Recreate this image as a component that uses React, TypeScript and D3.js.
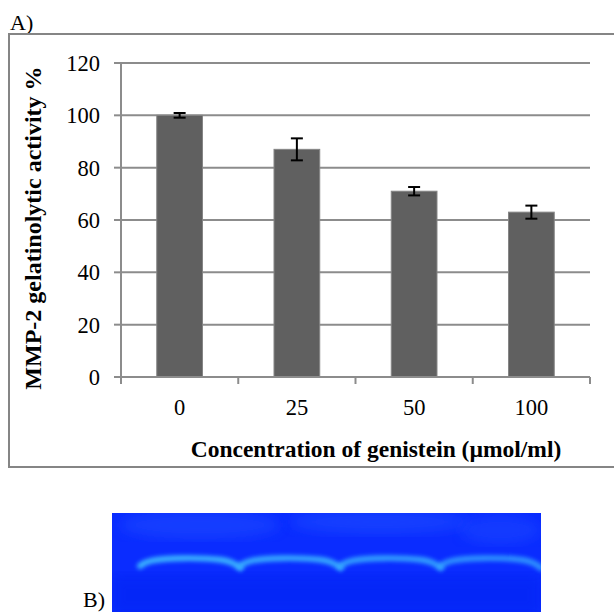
import React from 'react';
import * as d3 from 'd3';

// genistein concentration (µmol/ml) and MMP-2 activity (% of control)
const concentrations = ['0', '25', '50', '100'];
const activity = [100, 87, 71, 63];
const activityErr = [0.9, 4.2, 1.6, 2.5];
const yTicks = [0, 20, 40, 60, 80, 100, 120];
// relative brightness of the zymography band in each lane
const bandIntensity = [1, 0.92, 0.85, 0.75];

const W = 614;
const H = 614;
const plot = { left: 121, right: 590, top: 63, bottom: 377 };
const serif = '"Liberation Serif", "Times New Roman", serif';

const App: React.FC = () => {
  const x = d3.scaleBand<string>()
    .domain(concentrations)
    .range([plot.left, plot.right])
    .paddingInner(0.61)
    .paddingOuter(0.305);
  const y = d3.scaleLinear().domain([0, 120]).range([plot.bottom, plot.top]);
  const step = x.step();

  // gel lanes
  const gel = { x0: 112, x1: 541, y0: 513, y1: 612 };
  const lane = d3.scaleBand<string>().domain(concentrations).range([140, 541]);
  const bandLine = d3.line<[number, number]>().curve(d3.curveBasis);

  return (
    <svg width={W} height={H} style={{ position: 'absolute', left: 0, top: 0, background: '#fff' }}>
      <defs>
        <filter id="blur" x="-10%" y="-100%" width="120%" height="300%">
          <feGaussianBlur stdDeviation="2.2" />
        </filter>
        <filter id="soft">
          <feGaussianBlur stdDeviation="6" />
        </filter>
      </defs>

      <text x={10} y={30} fontFamily={serif} fontSize={22}>A)</text>
      {/* outer frame */}
      <rect x={9} y={34} width={620} height={433} fill="none" stroke="#858585" strokeWidth={2} />

      {/* gridlines */}
      {yTicks.filter(t => t > 0).map(t => (
        <line key={t} x1={plot.left} x2={plot.right} y1={y(t)} y2={y(t)} stroke="#8c8c8c" strokeWidth={2} />
      ))}
      {/* y axis */}
      <line x1={plot.left} x2={plot.left} y1={plot.top} y2={plot.bottom} stroke="#8c8c8c" strokeWidth={2} />
      {yTicks.map(t => (
        <g key={t}>
          <line x1={plot.left - 7} x2={plot.left} y1={y(t)} y2={y(t)} stroke="#8c8c8c" strokeWidth={2} />
          <text x={100} y={y(t)} dy="0.35em" textAnchor="end" fontFamily={serif} fontSize={22.5}>{t}</text>
        </g>
      ))}

      {/* bars */}
      {concentrations.map((c, i) => (
        <rect key={c} x={x(c)} y={y(activity[i])} width={x.bandwidth()} height={y(0) - y(activity[i])}
          fill="#606060" stroke="#858585" strokeWidth={1} />
      ))}

      {/* x axis */}
      <line x1={plot.left} x2={plot.right} y1={plot.bottom} y2={plot.bottom} stroke="#8c8c8c" strokeWidth={2} />
      {d3.range(concentrations.length + 1).map(i => (
        <line key={i} x1={plot.left + i * step} x2={plot.left + i * step} y1={plot.bottom} y2={plot.bottom + 7}
          stroke="#8c8c8c" strokeWidth={2} />
      ))}
      {concentrations.map(c => (
        <text key={c} x={x(c)! + x.bandwidth() / 2} y={415} textAnchor="middle" fontFamily={serif} fontSize={22.5}>{c}</text>
      ))}

      {/* error bars */}
      {concentrations.map((c, i) => {
        const cx = x(c)! + x.bandwidth() / 2;
        const hi = y(activity[i] + activityErr[i]);
        const lo = y(activity[i] - activityErr[i]);
        return (
          <g key={c} stroke="#000" strokeWidth={2}>
            <line x1={cx} x2={cx} y1={hi} y2={lo} />
            <line x1={cx - 6} x2={cx + 6} y1={hi} y2={hi} />
            <line x1={cx - 6} x2={cx + 6} y1={lo} y2={lo} />
          </g>
        );
      })}

      {/* axis titles */}
      <text x={376} y={457} textAnchor="middle" fontFamily={serif} fontSize={23.5} fontWeight="bold">
        Concentration of genistein (µmol/ml)
      </text>
      <text transform="translate(41,228) rotate(-90)" textAnchor="middle" fontFamily={serif} fontSize={24} fontWeight="bold">
        MMP-2 gelatinolytic activity %
      </text>

      {/* B) zymogram */}
      <text x={83} y={607} fontFamily={serif} fontSize={22}>B)</text>
      <rect x={gel.x0} y={gel.y0} width={gel.x1 - gel.x0} height={gel.y1 - gel.y0} fill="#0a2cff" />
      <g clipPath="url(#gelclip)">
        <clipPath id="gelclip">
          <rect x={gel.x0} y={gel.y0} width={gel.x1 - gel.x0} height={gel.y1 - gel.y0} />
        </clipPath>
        <ellipse cx={200} cy={525} rx={80} ry={14} fill="#1a48ff" opacity={0.6} filter="url(#soft)" />
        <ellipse cx={380} cy={522} rx={90} ry={12} fill="#1a4cff" opacity={0.6} filter="url(#soft)" />
        <ellipse cx={500} cy={530} rx={40} ry={14} fill="#1a48ff" opacity={0.5} filter="url(#soft)" />
        <rect x={gel.x0} y={575} width={gel.x1 - gel.x0} height={40} fill="#0020f0" opacity={0.5} filter="url(#soft)" />
        {concentrations.map((c, i) => {
          const a = lane(c)!;
          const b = a + lane.bandwidth();
          const pts: [number, number][] = [
            [a, 566], [a + 8, 560], [a + lane.bandwidth() * 0.4, 557.5], [b - 14, 559], [b - 4, 565], [b, 568],
          ];
          return (
            <path key={c} d={bandLine(pts)!} fill="none" stroke="#3ab4ff" strokeOpacity={bandIntensity[i]}
              strokeWidth={6} strokeLinecap="round" filter="url(#blur)" />
          );
        })}
      </g>
    </svg>
  );
};

export default App;
